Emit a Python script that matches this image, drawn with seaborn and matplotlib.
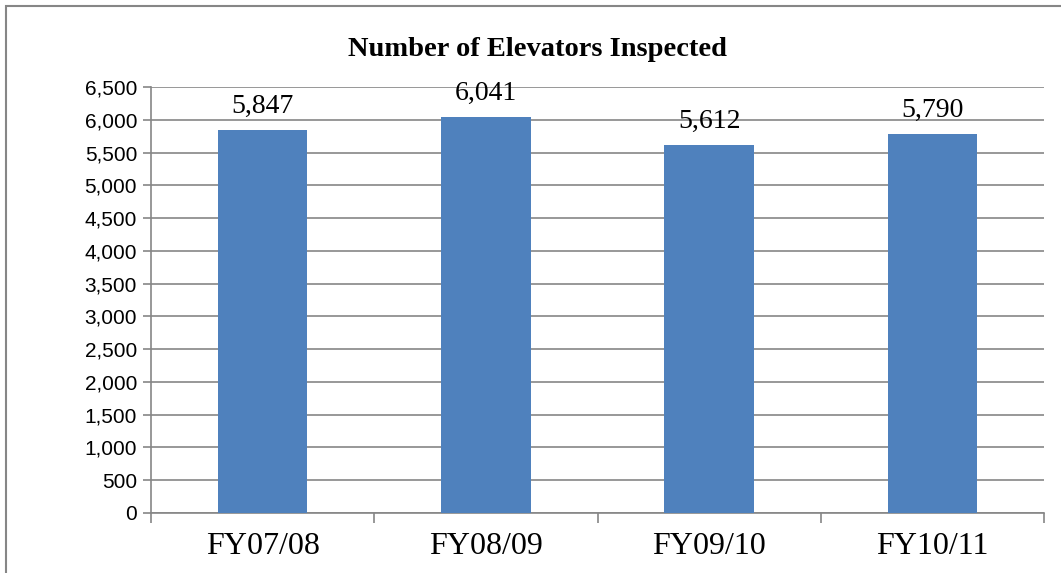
import matplotlib
matplotlib.use("Agg")
import matplotlib.pyplot as plt
import seaborn as sns
import pandas as pd
from matplotlib.patches import Rectangle
from matplotlib.ticker import FuncFormatter, MultipleLocator

categories = ["FY07/08", "FY08/09", "FY09/10", "FY10/11"]
values = [5847, 6041, 5612, 5790]
title = "Number of Elevators Inspected"

sns.set_theme(style="white")
plt.rcParams['font.family'] = ['Liberation Sans', 'DejaVu Sans']
plt.rcParams['text.color'] = 'black'
plt.rcParams['xtick.color'] = 'black'
plt.rcParams['ytick.color'] = 'black'

df = pd.DataFrame({"cat": categories, "val": values})

W, H = 1061, 573
fig = plt.figure(figsize=(W / 100, H / 100), dpi=100)
ax = fig.add_axes([151 / W, 1 - 513 / H, (1044 - 151) / W, (513 - 87) / H])

sns.barplot(data=df, x="cat", y="val", color="#4F81BD", saturation=1,
            width=0.4, ax=ax, zorder=3, linewidth=0, edgecolor="none")

ax.set_ylim(0, 6500)
ax.set_xlim(-0.5, len(categories) - 0.5)
ax.yaxis.set_major_locator(MultipleLocator(500))
ax.yaxis.set_major_formatter(FuncFormatter(lambda v, p: f"{int(v):,}"))
ax.grid(axis="y", color="#868686", linewidth=1.2, zorder=0)
ax.set_axisbelow(True)

for s in ["top", "right"]:
    ax.spines[s].set_visible(False)
ax.spines["left"].set_color("#868686")
ax.spines["bottom"].set_color("#868686")
ax.spines["left"].set_linewidth(1.2)
ax.spines["bottom"].set_linewidth(1.2)

ax.set_xlabel("")
ax.set_ylabel("")
ax.tick_params(axis="y", which="major", direction="out", length=6, width=1.2,
               color="#868686", labelcolor="black", labelsize=15, pad=4, left=True)
ax.tick_params(axis="x", which="major", length=0, pad=14, labelcolor="black")
ax.set_xticks(range(len(categories)))
ax.set_xticklabels(categories, fontfamily="Liberation Serif", fontsize=23)
ax.set_xticks([i - 0.5 for i in range(len(categories) + 1)], minor=True)
ax.tick_params(axis="x", which="minor", direction="out", length=7, width=1.2,
               color="#868686", bottom=True)

for i, v in enumerate(values):
    ax.annotate(f"{v:,}", (i, v), xytext=(0, 8), textcoords="offset points",
                ha="center", va="bottom", fontfamily="Liberation Serif",
                fontsize=20, color="black")

fig.text(538 / W, 1 - 50 / H, title, ha="center", va="center",
         fontfamily="Liberation Serif", fontweight="bold", fontsize=20.5,
         color="black")

fig.patches.append(Rectangle((6 / W, -0.01), 1.02, 1 - 6 / H + 0.01,
                             transform=fig.transFigure, fill=False,
                             edgecolor="#868686", linewidth=1.5))

fig.savefig("out.png", dpi=100, facecolor="white")
